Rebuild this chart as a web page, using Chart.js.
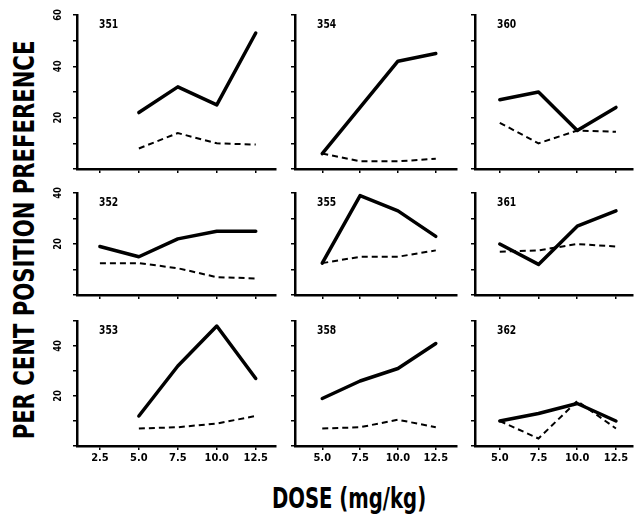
<!DOCTYPE html>
<html lang="en">
<head>
<meta charset="UTF-8">
<script src="https://cdn.jsdelivr.net/npm/chart.js@4.4.1/dist/chart.umd.min.js"></script>
<title>Per cent position preference vs dose</title>
<style>
  html, body { margin: 0; padding: 0; background: #fff; }
  #wrap { position: relative; width: 634px; height: 516px; overflow: hidden; }
  #wrap canvas { position: absolute; }
  .title {
    position: absolute;
    white-space: nowrap;
    font-family: "Liberation Sans Narrow", "DejaVu Sans Condensed", "Roboto Condensed", "DejaVu Sans", sans-serif;
    font-weight: bold;
    font-size: 28px;
    color: #000;
    line-height: 1;
  }
  /* no condensed face installed, so squeeze the plain bold one */
  #ytitle { left: 25px; top: 240px; transform: translate(-50%, -50%) rotate(-90deg) scaleX(0.84); }
  #xtitle { left: 349px; top: 499px; transform: translate(-50%, -50%) scaleX(0.78); }
</style>
</head>
<body>
<div id="wrap">
  <div class="title" id="ytitle">PER CENT POSITION PREFERENCE</div>
  <div class="title" id="xtitle">DOSE (mg/kg)</div>
</div>
<script>
// doses (mg/kg), shared by every panel
const doses = [2.5, 5, 7.5, 10, 12.5];

// solid = first measure, dashed = second measure (null = not tested)
const s351 = [null, 22, 32, 25, 53];   const d351 = [null, 8, 14, 10, 9.5];
const s354 = [null, 6, 24, 42, 45];    const d354 = [null, 6, 3, 3, 4];
const s360 = [null, 27, 30, 15, 24];   const d360 = [null, 18, 10, 15, 14.5];
const s352 = [19, 15, 22, 25, 25];     const d352 = [12.5, 12.5, 10.5, 7, 6.5];
const s355 = [null, 12.5, 39, 33, 23]; const d355 = [null, 12.5, 15, 15, 17.5];
const s361 = [null, 20, 12, 27, 33];   const d361 = [null, 17, 17.5, 20, 19];
const s353 = [null, 12, 32, 48, 27];   const d353 = [null, 7, 7.5, 9, 12];
const s358 = [null, 19, 26, 31, 41];   const d358 = [null, 7, 7.5, 10.5, 7.5];
const s362 = [null, 10, 13, 17, 10];   const d362 = [null, 10, 3, 18, 7];

// grid of panels, row by row
const panels = [
  ['351', s351, d351], ['354', s354, d354], ['360', s360, d360],
  ['352', s352, d352], ['355', s355, d355], ['361', s361, d361],
  ['353', s353, d353], ['358', s358, d358], ['362', s362, d362]
];

// axis ranges and ticks
const rowMax = [60, 40, 50];
const yLabelVals = [[20, 40, 60], [20, 40], [20, 40]];
const colXTicks = [[2.5, 5, 7.5, 10, 12.5], [5, 7.5, 10, 12.5], [5, 7.5, 10, 12.5]];
const colXMin = [1.03, 3.2, 3.4];
const colXMax = [13.8, 13.9, 13.6];

// placement on the page (px)
const colAxis = [77, 295, 475];
const colRight = [276, 457, 633];
const rowTop = [15, 193, 321];
const rowBottom = [169, 295, 446];
const YW = 40, PT = 8, PR = 2;

const FONT = '"Liberation Sans Narrow", "DejaVu Sans Condensed", "Roboto Condensed", "DejaVu Sans", sans-serif';

// panel number + rotated y tick labels
const decor = {
  id: 'decor',
  afterDraw(chart, args, opts) {
    const ctx = chart.ctx;
    const area = chart.chartArea;
    ctx.save();
    ctx.fillStyle = '#000';
    ctx.font = 'bold 12px ' + FONT;
    ctx.textBaseline = 'middle';
    ctx.textAlign = 'left';
    ctx.save();
    ctx.translate(area.left + 22, area.top + 10);
    ctx.scale(0.85, 1);
    ctx.fillText(opts.name, 0, 0);
    ctx.restore();
    const y = chart.scales.y;
    ctx.font = 'bold 11px ' + FONT;
    ctx.textAlign = 'center';
    (opts.yLabels || []).forEach(v => {
      ctx.save();
      ctx.translate(area.left - 19, y.getPixelForValue(v));
      ctx.rotate(-Math.PI / 2);
      ctx.scale(0.85, 1);
      ctx.fillText(String(v), 0, 0);
      ctx.restore();
    });
    ctx.restore();
  }
};

const wrap = document.getElementById('wrap');

panels.forEach(([name, solid, dashed], i) => {
  const r = Math.floor(i / 3), c = i % 3;
  const bottomRow = r === 2;
  const XH = bottomRow ? 22 : 8;
  const left = colAxis[c] - YW;
  const top = rowTop[r] - PT;
  const width = colRight[c] - left + PR;
  const height = rowBottom[r] + XH - top;

  const canvas = document.createElement('canvas');
  canvas.width = width;
  canvas.height = height;
  canvas.style.left = left + 'px';
  canvas.style.top = top + 'px';
  canvas.style.width = width + 'px';
  canvas.style.height = height + 'px';
  wrap.appendChild(canvas);

  const toPts = vals => doses.map((d, k) => ({ x: d, y: vals[k] }));
  const axisGrid = { display: true, drawOnChartArea: false, drawTicks: true, tickLength: 4, color: '#000', lineWidth: 1.5 };
  const axisBorder = { display: true, color: '#000', width: 2.5 };

  new Chart(canvas, {
    type: 'line',
    data: {
      datasets: [
        { data: toPts(solid), borderColor: '#000', borderWidth: 3.5, pointRadius: 0, tension: 0,
          borderJoinStyle: 'round', borderCapStyle: 'round', spanGaps: false },
        { data: toPts(dashed), borderColor: '#000', borderWidth: 2, borderDash: [6, 4], pointRadius: 0, tension: 0,
          spanGaps: false }
      ]
    },
    options: {
      responsive: false,
      animation: false,
      devicePixelRatio: 1,
      layout: { padding: { top: PT, right: PR, left: 0, bottom: 0 } },
      plugins: {
        legend: { display: false },
        tooltip: { enabled: false },
        decor: { name: name, yLabels: c === 0 ? yLabelVals[r] : [] }
      },
      scales: {
        x: {
          type: 'linear',
          min: colXMin[c],
          max: colXMax[c],
          afterBuildTicks: s => { s.ticks = colXTicks[c].map(v => ({ value: v })); },
          afterFit: s => { s.height = XH; },
          ticks: {
            display: bottomRow,
            autoSkip: false,
            maxRotation: 0,
            padding: 2,
            color: '#000',
            font: { family: FONT, size: 11, weight: 'bold' },
            callback: v => v.toFixed(1)
          },
          grid: axisGrid,
          border: axisBorder
        },
        y: {
          type: 'linear',
          min: 0,
          max: rowMax[r],
          afterBuildTicks: s => {
            const t = [];
            for (let v = 0; v <= rowMax[r]; v += 10) t.push({ value: v });
            s.ticks = t;
          },
          afterFit: s => { s.width = YW; },
          ticks: { display: false },
          grid: axisGrid,
          border: axisBorder
        }
      }
    },
    plugins: [decor]
  });
});
</script>
</body>
</html>
